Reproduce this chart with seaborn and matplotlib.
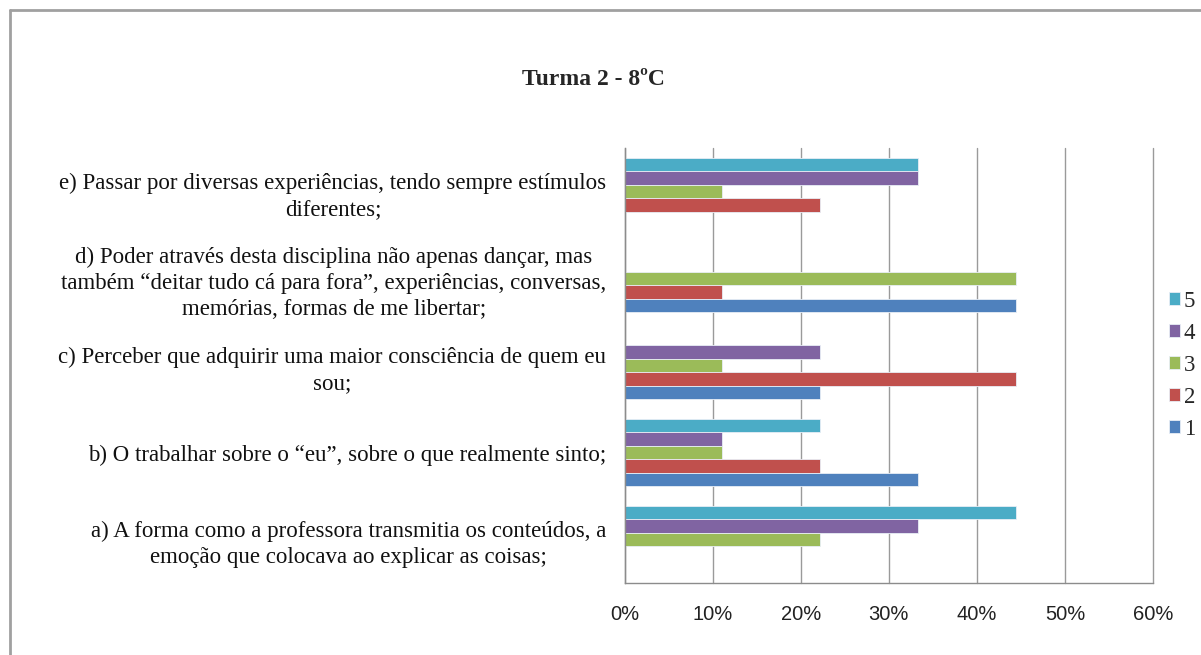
import matplotlib
matplotlib.use("Agg")
import matplotlib.pyplot as plt
from matplotlib.lines import Line2D
from matplotlib.ticker import FixedLocator, PercentFormatter
import pandas as pd
import seaborn as sns

# Questions, top to bottom as drawn
QUESTIONS = [
    "e) Passar por diversas experiências, tendo sempre estímulos\ndiferentes;",
    "d) Poder através desta disciplina não apenas dançar, mas\ntambém “deitar tudo cá para fora”, experiências, conversas,\nmemórias, formas de me libertar;",
    "c) Perceber que adquirir uma maior consciência de quem eu\nsou;",
    "b) O trabalhar sobre o “eu”, sobre o que realmente sinto;",
    "a) A forma como a professora transmitia os conteúdos, a\nemoção que colocava ao explicar as coisas;",
]
LEVELS = ["5", "4", "3", "2", "1"]

# share of answers (%) per level, same order as QUESTIONS
SCORE_5 = [33.3, 0.0, 0.0, 22.2, 44.4]
SCORE_4 = [33.3, 0.0, 22.2, 11.1, 33.3]
SCORE_3 = [11.1, 44.4, 11.1, 11.1, 22.2]
SCORE_2 = [22.2, 11.1, 44.4, 22.2, 0.0]
SCORE_1 = [0.0, 44.4, 22.2, 33.3, 0.0]

COLORS = {"1": "#4F81BD", "2": "#C0504D", "3": "#9BBB59", "4": "#8064A2", "5": "#4BACC6"}

rows = []
for level, vals in zip(LEVELS, [SCORE_5, SCORE_4, SCORE_3, SCORE_2, SCORE_1]):
    for q, v in zip(QUESTIONS, vals):
        rows.append({"question": q, "level": level, "pct": v})
df = pd.DataFrame(rows)

sns.set_style("white")
plt.rcParams["font.family"] = ["Liberation Serif", "DejaVu Serif"]

fig = plt.figure(figsize=(12.01, 6.55), dpi=100)
ax = fig.add_axes([0.520, 0.110, 0.440, 0.664])

sns.barplot(
    data=df, x="pct", y="question", hue="level",
    order=QUESTIONS, hue_order=LEVELS, palette=COLORS,
    orient="h", width=0.77, saturation=1, errorbar=None,
    edgecolor="#e8eef6", linewidth=0.6, ax=ax,
)

ax.set_xlim(0, 60)
ax.set_ylim(len(QUESTIONS) - 0.5, -0.5)
ax.xaxis.set_major_locator(FixedLocator(range(0, 61, 10)))
ax.xaxis.set_major_formatter(PercentFormatter(decimals=0))
ax.grid(axis="x", color="#9a9a9a", linewidth=1)
for gl in ax.get_xgridlines():
    gl.set_clip_on(False)
ax.set_axisbelow(True)
ax.set_xlabel("")
ax.set_ylabel("")

for side in ["top", "right"]:
    ax.spines[side].set_visible(False)
for side in ["left", "bottom"]:
    ax.spines[side].set_color("#8c8c8c")
    ax.spines[side].set_linewidth(1)

ax.tick_params(axis="x", direction="out", length=6, color="#8c8c8c",
               labelsize=14.5, labelcolor="#222222", pad=10)
for lbl in ax.get_xticklabels():
    lbl.set_fontfamily(["Liberation Sans", "DejaVu Sans"])

ax.set_yticks(range(len(QUESTIONS)))
ax.set_yticklabels(QUESTIONS, multialignment="center", fontsize=16.5,
                   linespacing=1.3, color="#111111")
ax.tick_params(axis="y", which="major", length=0, pad=13)
ax.set_yticks([i - 0.5 for i in range(len(QUESTIONS) + 1)], minor=True)
ax.tick_params(axis="y", which="minor", direction="out", length=6,
               color="#8c8c8c", width=1)

handles, labels = ax.get_legend_handles_labels()
ax.legend(handles, labels, loc="center left", bbox_to_anchor=(1.0, 0.5),
          frameon=False, fontsize=16.5, handlelength=0.5, handleheight=0.5,
          handletextpad=0.15, labelspacing=0.48, borderaxespad=0.3)

fig.text(0.494, 0.878, "Turma 2 - 8ºC", ha="center", va="center",
         fontsize=17, fontweight="bold")

# outer chart frame (cut off at right and bottom)
fig.add_artist(Line2D([10 / 1201, 10 / 1201], [0, 1 - 10 / 655],
                      transform=fig.transFigure, color="#a0a0a0", linewidth=2))
fig.add_artist(Line2D([10 / 1201, 1], [1 - 10 / 655, 1 - 10 / 655],
                      transform=fig.transFigure, color="#a0a0a0", linewidth=2))

fig.savefig("out.png", dpi=100)
